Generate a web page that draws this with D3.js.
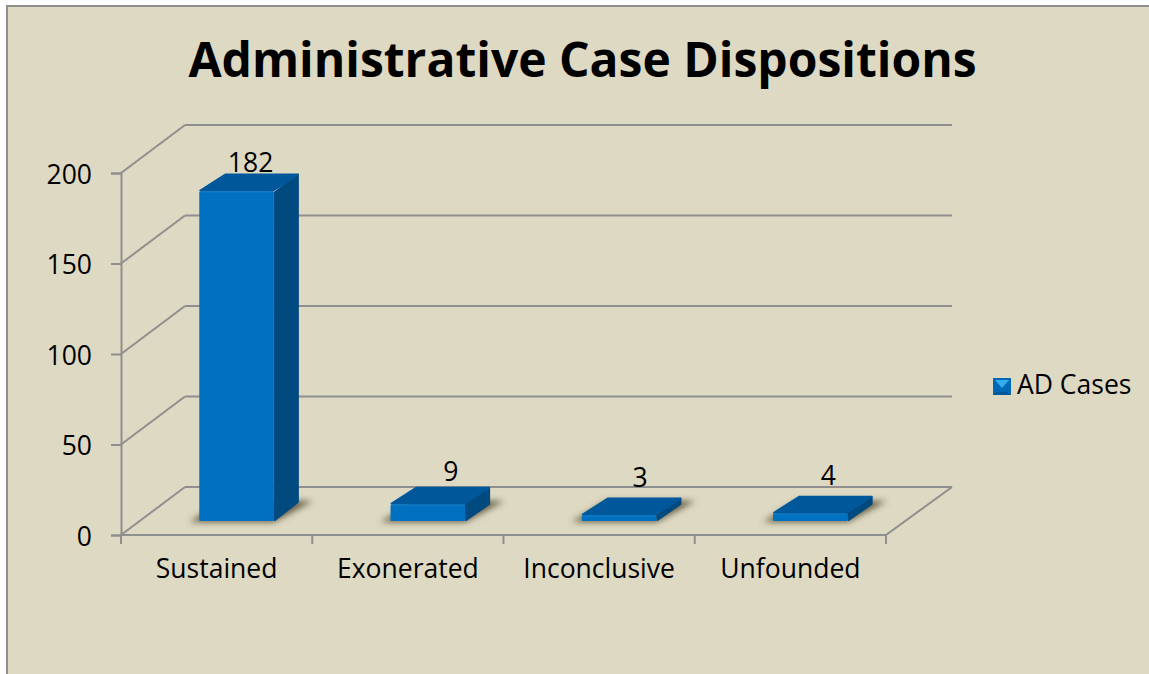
<!DOCTYPE html>
<html>
<head>
<meta charset="utf-8">
<script src="https://cdn.jsdelivr.net/npm/d3@7"></script>
<style>
    html, body { margin: 0; padding: 0; background: #fff; overflow: hidden; }
    svg { display: block; }
    text { font-family: "Open Sans", sans-serif; fill: #000; }
</style>
</head>
<body>
<div id="my_dataviz"></div>
<script>
var categories = ["Sustained", "Exonerated", "Inconclusive", "Unfounded"];
var adCases = [182, 9, 3, 4];
var yTicks = [0, 50, 100, 150, 200];
var seriesName = "AD Cases";
var chartTitle = "Administrative Case Dispositions";

// set the dimensions of the picture and the fake 3d box
var width = 1149, height = 674;
var left = 121, right = 886, bottom = 535, top_ = 173;
var wallDx = 65, wallDy = -48;   // how far the back wall is shifted
var barDx = 25, barDy = -18;     // depth of one bar
var floorDy = -14;               // bars stand this far behind the front edge
var floorDx = floorDy * wallDx / wallDy + 1;
var fontSize = "26.5px";

var gridColor = "#8f8f8f";

var svg = d3.select("#my_dataviz")
    .append("svg")
    .attr("width", width)
    .attr("height", height);

var defs = svg.append("defs");
defs.append("filter").attr("id", "shadowBlur")
    .attr("x", "-30%").attr("y", "-30%").attr("width", "160%").attr("height", "160%")
    .append("feGaussianBlur").attr("stdDeviation", 3);

// background and the border (only top and left show, the rest runs off the page)
svg.append("rect")
    .attr("x", 7).attr("y", 6)
    .attr("width", width + 20).attr("height", height + 20)
    .attr("fill", "#ddd9c3")
    .attr("stroke", gridColor)
    .attr("stroke-width", 2);

svg.append("text")
    .attr("x", 582.5).attr("y", 77)
    .attr("text-anchor", "middle")
    .style("font-size", "48px")
    .style("font-weight", "700")
    .text(chartTitle);

var y = d3.scaleLinear().domain([0, 200]).range([bottom, top_]);
var x = d3.scaleBand().domain(categories).range([left, right])
    .paddingInner(0.61).paddingOuter(0.305);
var boundary = d3.scaleLinear().domain([0, categories.length]).range([left, right]);

function line(g, x1, y1, x2, y2) {
    g.append("line")
        .attr("x1", x1).attr("y1", y1).attr("x2", x2).attr("y2", y2)
        .attr("stroke", gridColor)
        .attr("stroke-width", 2);
}

// walls
var walls = svg.append("g");
yTicks.forEach(function (d) {
    line(walls, left, y(d), left + wallDx - 1, y(d) + wallDy);
    line(walls, left + wallDx - 1, y(d) + wallDy, right + wallDx + 1, y(d) + wallDy);
});
line(walls, right, bottom, right + wallDx + 1, bottom + wallDy);

// y axis
var yAxis = svg.append("g")
    .attr("transform", "translate(" + left + ",0)")
    .call(d3.axisLeft(y).tickValues(yTicks).tickSize(10).tickPadding(19));
yAxis.select(".domain").attr("stroke", gridColor).attr("stroke-width", 2);
yAxis.selectAll("line").attr("stroke", gridColor).attr("stroke-width", 2);
yAxis.selectAll("text").style("font-size", fontSize).attr("fill", "#000").attr("dy", "0.38em");

// x axis, ticks sit between the categories so they are drawn here
var xAxis = svg.append("g")
    .attr("transform", "translate(0," + bottom + ")")
    .call(d3.axisBottom(x).tickSize(0).tickPadding(24));
xAxis.select(".domain").remove();
xAxis.selectAll("text").style("font-size", fontSize).attr("fill", "#000");
line(svg, left - 1, bottom, right + 1, bottom);
d3.range(categories.length + 1).forEach(function (i) {
    line(svg, boundary(i), bottom, boundary(i), bottom + 9);
});

function pts(list) {
    return list.map(function (p) { return p.join(","); }).join(" ");
}

// pull the corners in a bit, the round stroke then gives the soft bevel edge
function shrink(list, by) {
    var cx = d3.mean(list, function (p) { return p[0]; });
    var cy = d3.mean(list, function (p) { return p[1]; });
    return list.map(function (p) {
        return [p[0] + (p[0] < cx ? by : -by), p[1] + (p[1] < cy ? by : -by)];
    });
}

function face(g, list, color) {
    g.append("polygon")
        .attr("points", pts(shrink(list, 1)))
        .attr("fill", color)
        .attr("stroke", color)
        .attr("stroke-width", 2)
        .attr("stroke-linejoin", "round");
}

// shadows first so no bar gets covered
var shadows = svg.append("g").attr("filter", "url(#shadowBlur)");
var bars = svg.append("g");

var labelNudgeX = [14, 23, 21, 18];
var labelNudgeY = [-2, -6, -11, -11];

categories.forEach(function (c, i) {
    var v = adCases[i];
    var x0 = x(c) + floorDx;
    var x1 = x0 + x.bandwidth();
    var yb = y(0) + floorDy;
    var yt = y(v) + floorDy;

    shadows.append("polygon")
        .attr("points", pts([
            [x0 - 10, yb + 1], [x1, yb + 1],
            [x1 + barDx + 14, yb + barDy - 2], [x0 + barDx, yb + barDy - 2]
        ]))
        .attr("fill", "#5f573c")
        .attr("opacity", 0.95);

    var g = bars.append("g");

    face(g, [[x1, yb], [x1 + barDx, yb + barDy], [x1 + barDx, yt + barDy], [x1, yt]], "#004a80");
    face(g, [[x0, yt], [x1, yt], [x1 + barDx, yt + barDy], [x0 + barDx, yt + barDy]], "#00589b");
    face(g, [[x0, yb], [x1, yb], [x1, yt], [x0, yt]], "#0070c0");

    // lighter bevel along the top of the front face
    g.append("line")
        .attr("x1", x0 + 1).attr("y1", yt + 0.5).attr("x2", x1 - 1).attr("y2", yt + 0.5)
        .attr("stroke", "#0a79c9").attr("stroke-width", 1.5);

    svg.append("text")
        .attr("x", (x0 + x1) / 2 + labelNudgeX[i])
        .attr("y", yt + barDy + labelNudgeY[i])
        .attr("text-anchor", "middle")
        .style("font-size", fontSize)
        .text(v);
});

// legend
var lx = 993, ly = 378, ls = 18;
var legend = svg.append("g");
legend.append("rect").attr("x", lx).attr("y", ly).attr("width", ls).attr("height", ls - 1).attr("fill", "#0068b4");
legend.append("polygon")
    .attr("points", pts([[lx + 2, ly + 2], [lx + ls - 2, ly + 2], [lx + ls / 2, ly + ls / 2 + 1]]))
    .attr("fill", "#33aef0");
legend.append("polygon")
    .attr("points", pts([[lx, ly + ls - 1], [lx + ls, ly + ls - 1], [lx + ls - 3, ly + ls - 4], [lx + 3, ly + ls - 4]]))
    .attr("fill", "#00589b");
legend.append("text")
    .attr("x", 1017).attr("y", 394)
    .style("font-size", fontSize)
    .text(seriesName);
</script>
</body>
</html>
